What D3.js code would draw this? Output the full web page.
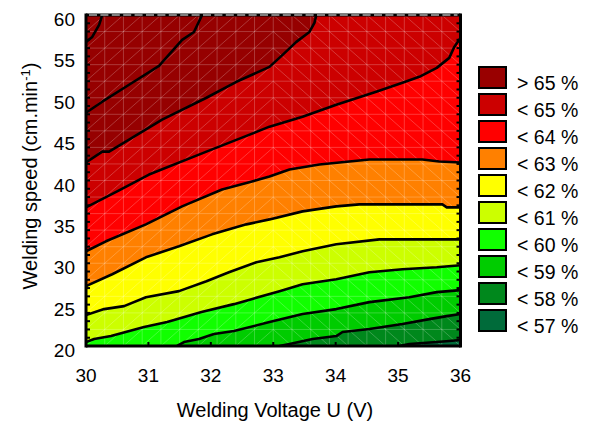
<!DOCTYPE html>
<html>
<head>
<meta charset="utf-8">
<script src="https://cdn.jsdelivr.net/npm/d3@7"></script>
<style>
  body { margin: 0; background: #fff; }
  svg { display: block; font-family: "Liberation Sans", Arial, sans-serif; }
</style>
</head>
<body>
<div id="chart"></div>
<script>
// Iso-lines, points are [voltage U (V), welding speed (cm/min)]
var levels = [57, 58, 59, 60, 61, 62, 63, 64, 65, 66, 67];

var line57 = [[35.02, 20], [35.18, 20.24], [35.62, 20.48], [35.82, 20.6], [36, 20.72]];
var line58 = [[33.1, 20], [33.26, 20.24], [33.63, 20.84], [34.01, 21.2], [34.11, 21.69], [34.54, 22.05],
              [35.07, 22.65], [35.5, 23.25], [35.78, 23.61], [36, 23.86]];
var line59 = [[31.46, 20], [31.57, 20.48], [31.81, 20.84], [32.05, 21.45], [32.37, 21.81], [32.94, 22.89],
              [33.47, 23.86], [34.01, 24.46], [34.54, 25.3], [35.18, 25.9], [35.62, 26.51], [36, 26.75]];
var line60 = [[30, 20.48], [30.13, 20.84], [30.4, 21.2], [30.93, 22.29], [31.3, 22.89], [31.85, 24.1],
              [32.37, 25.06], [32.65, 25.66], [33.1, 26.63], [33.47, 27.47], [34.01, 28.07], [34.54, 28.92],
              [35.07, 29.28], [35.62, 29.52], [36, 29.76]];
var line61 = [[30, 23.73], [30.29, 24.46], [30.61, 24.82], [30.96, 25.9], [31.49, 26.63], [31.93, 27.83],
              [32.29, 28.92], [32.73, 30.12], [33.1, 30.72], [33.47, 31.45], [34.01, 32.29], [34.7, 32.89],
              [36, 32.89]];
var line62 = [[30, 27.23], [30.42, 28.67], [30.96, 30.72], [31.49, 32.05], [32.02, 33.49], [32.57, 34.7],
              [32.94, 35.3], [33.47, 36.27], [34.01, 36.87], [34.38, 37.11], [35.71, 37.11], [35.78, 36.75],
              [36, 36.75]];
var line63 = [[30, 31.45], [30.32, 32.65], [30.96, 34.7], [31.54, 36.87], [32.18, 38.92], [32.66, 39.88],
              [32.94, 40.48], [33.26, 41.33], [33.74, 41.93], [34.54, 42.53], [35.39, 42.53], [35.66, 42.29],
              [36, 42.17]];
var line64 = [[30, 36.75], [30.53, 38.8], [31.01, 40.72], [31.93, 43.49], [32.5, 45.18], [32.94, 46.51],
              [33.47, 47.71], [34.01, 49.16], [34.65, 50.72], [35.07, 51.81], [35.34, 52.53], [35.62, 53.61],
              [35.82, 54.82], [35.9, 56.14], [36, 57.23]];
var line65 = [[30, 42.17], [30.26, 43.49], [30.37, 43.49], [30.69, 44.94], [31.22, 47.35], [31.93, 50.0],
              [32.41, 51.93], [32.94, 53.73], [33.15, 55.18], [33.37, 56.75], [33.58, 57.95], [33.66, 59.04],
              [33.69, 60]];
var line66 = [[30, 48.19], [30.26, 49.52], [30.69, 51.57], [31.17, 53.86], [31.54, 56.99], [31.73, 57.95],
              [31.86, 60]];
var line67 = [[30, 56.75], [30.1, 57.35], [30.21, 58.8], [30.26, 60]];

var contourLines = [line57, line58, line59, line60, line61, line62, line63, line64, line65, line66, line67];

// band colours from the lowest band (<57) upwards
var bandColors = ['#006b3a', '#00881c', '#00cc00', '#11ff00', '#ccff00', '#ffff00',
                  '#ff8000', '#ff0000', '#cc0000', '#960000', '#960000', '#960000'];

var legendLabels = ['> 65 %', '< 65 %', '< 64 %', '< 63 %', '< 62 %', '< 61 %',
                    '< 60 %', '< 59 %', '< 58 %', '< 57 %'];
var legendColors = ['#990000', '#cc0000', '#ff0000', '#ff8000', '#ffff00', '#ccff00',
                    '#11ff00', '#00cc00', '#00881c', '#006b3a'];

var xTicks = [30, 31, 32, 33, 34, 35, 36];
var yTicks = [20, 25, 30, 35, 40, 45, 50, 55, 60];

var width = 591, height = 426,
    plot = {left: 86, right: 460.5, top: 15, bottom: 346};

var x = d3.scaleLinear().domain([30, 36]).range([plot.left, plot.right]),
    y = d3.scaleLinear().domain([20, 60]).range([plot.bottom, plot.top]);

var svg = d3.select('#chart').append('svg')
    .attr('width', width)
    .attr('height', height);

svg.append('clipPath').attr('id', 'plotClip')
  .append('rect')
    .attr('x', plot.left).attr('y', plot.top)
    .attr('width', plot.right - plot.left)
    .attr('height', plot.bottom - plot.top);

var area = svg.append('g').attr('clip-path', 'url(#plotClip)');

// lowest band fills the whole plot, each iso-line then covers the region above it
area.append('rect')
  .attr('x', plot.left).attr('y', plot.top)
  .attr('width', plot.right - plot.left)
  .attr('height', plot.bottom - plot.top)
  .attr('fill', bandColors[0]);

function abovePolygon(pts) {
  var poly = pts.slice(),
      first = pts[0],
      last = pts[pts.length - 1];
  if (last[0] >= 36) poly.push([36, 60]);
  poly.push([30, 60]);
  if (first[0] > 30) poly.push([30, 20]);
  return poly;
}

var lineGen = d3.line()
  .x(function(d) { return x(d[0]); })
  .y(function(d) { return y(d[1]); });

area.selectAll('path.band')
  .data(contourLines)
  .enter().append('path')
    .attr('class', 'band')
    .attr('d', function(d) { return lineGen(abovePolygon(d)) + 'Z'; })
    .attr('fill', function(d, i) { return bandColors[i + 1]; });

// faint white mesh of the fitted surface
var mesh = area.append('g')
  .attr('stroke', '#fff')
  .attr('stroke-opacity', 0.22)
  .attr('stroke-width', 1);

var gx = d3.range(30, 36.001, 0.3),
    gy = d3.range(20, 60.001, 2);

gx.forEach(function(v) {
  mesh.append('line').attr('x1', x(v)).attr('x2', x(v)).attr('y1', plot.top).attr('y2', plot.bottom);
});
gy.forEach(function(v) {
  mesh.append('line').attr('x1', plot.left).attr('x2', plot.right).attr('y1', y(v)).attr('y2', y(v));
});
for (var i = 0; i < gx.length - 1; i++) {
  for (var j = 0; j < gy.length - 1; j++) {
    var rising = gx[i] < 33;
    mesh.append('line')
      .attr('x1', x(gx[i])).attr('x2', x(gx[i + 1]))
      .attr('y1', y(rising ? gy[j] : gy[j + 1]))
      .attr('y2', y(rising ? gy[j + 1] : gy[j]));
  }
}

// iso-lines
area.selectAll('path.iso')
  .data(contourLines)
  .enter().append('path')
    .attr('class', 'iso')
    .attr('d', lineGen)
    .attr('fill', 'none')
    .attr('stroke', '#000')
    .attr('stroke-width', 2.6)
    .attr('stroke-linejoin', 'round');

// frame and ticks
var frame = svg.append('g').attr('stroke', '#000');

frame.append('line')
  .attr('x1', plot.left).attr('x2', plot.left)
  .attr('y1', plot.top - 1.5).attr('y2', plot.bottom + 1.5)
  .attr('stroke-width', 3);
frame.append('line')
  .attr('x1', plot.right).attr('x2', plot.right)
  .attr('y1', plot.top - 1.5).attr('y2', plot.bottom + 1.5)
  .attr('stroke-width', 3);
frame.append('line')
  .attr('x1', plot.left).attr('x2', plot.right)
  .attr('y1', plot.bottom).attr('y2', plot.bottom)
  .attr('stroke-width', 3);
frame.append('line')
  .attr('x1', plot.left).attr('x2', plot.right)
  .attr('y1', plot.top).attr('y2', plot.top)
  .attr('stroke-width', 3);
svg.append('line')
  .attr('x1', plot.left + 3).attr('x2', plot.right - 3)
  .attr('y1', plot.top).attr('y2', plot.top)
  .attr('stroke', '#fff')
  .attr('stroke-width', 1)
  .attr('stroke-dasharray', '8,3.4');

d3.range(20, 61, 1).forEach(function(v) {
  frame.append('line')
    .attr('x1', plot.left).attr('x2', plot.left + 4)
    .attr('y1', y(v)).attr('y2', y(v))
    .attr('stroke-width', 2);
  frame.append('line')
    .attr('x1', plot.right - 4).attr('x2', plot.right)
    .attr('y1', y(v)).attr('y2', y(v))
    .attr('stroke-width', 2);
});
xTicks.forEach(function(v) {
  frame.append('line')
    .attr('x1', x(v)).attr('x2', x(v))
    .attr('y1', plot.bottom).attr('y2', plot.bottom - 4)
    .attr('stroke-width', 2);
});

// tick labels
svg.selectAll('text.ylab')
  .data(yTicks)
  .enter().append('text')
    .attr('class', 'ylab')
    .attr('x', 75)
    .attr('y', function(d) { return y(d) + 11; })
    .attr('text-anchor', 'end')
    .style('font-size', '19px')
    .text(function(d) { return d; });

svg.selectAll('text.xlab')
  .data(xTicks)
  .enter().append('text')
    .attr('class', 'xlab')
    .attr('x', function(d) { return x(d); })
    .attr('y', 382)
    .attr('text-anchor', 'middle')
    .style('font-size', '19px')
    .text(function(d) { return d; });

// axis titles
svg.append('text')
  .attr('x', 275)
  .attr('y', 417)
  .attr('text-anchor', 'middle')
  .style('font-size', '20px')
  .text('Welding Voltage U (V)');

var yTitle = svg.append('text')
  .attr('transform', 'translate(37,176) rotate(-90)')
  .attr('text-anchor', 'middle')
  .style('font-size', '20px');
yTitle.append('tspan').text('Welding speed (cm.min');
yTitle.append('tspan').attr('dy', -7).style('font-size', '13px').text('-1');
yTitle.append('tspan').attr('dy', 7).text(')');

// legend
var legend = svg.append('g');
legend.selectAll('rect')
  .data(legendColors)
  .enter().append('rect')
    .attr('x', 479)
    .attr('y', function(d, i) { return 67 + i * 27; })
    .attr('width', 27)
    .attr('height', 21)
    .attr('fill', function(d) { return d; })
    .attr('stroke', '#000')
    .attr('stroke-width', 2);

legend.selectAll('text')
  .data(legendLabels)
  .enter().append('text')
    .attr('x', 517)
    .attr('y', function(d, i) { return 90 + i * 27; })
    .style('font-size', '19.5px')
    .text(function(d) { return d; });
</script>
</body>
</html>
